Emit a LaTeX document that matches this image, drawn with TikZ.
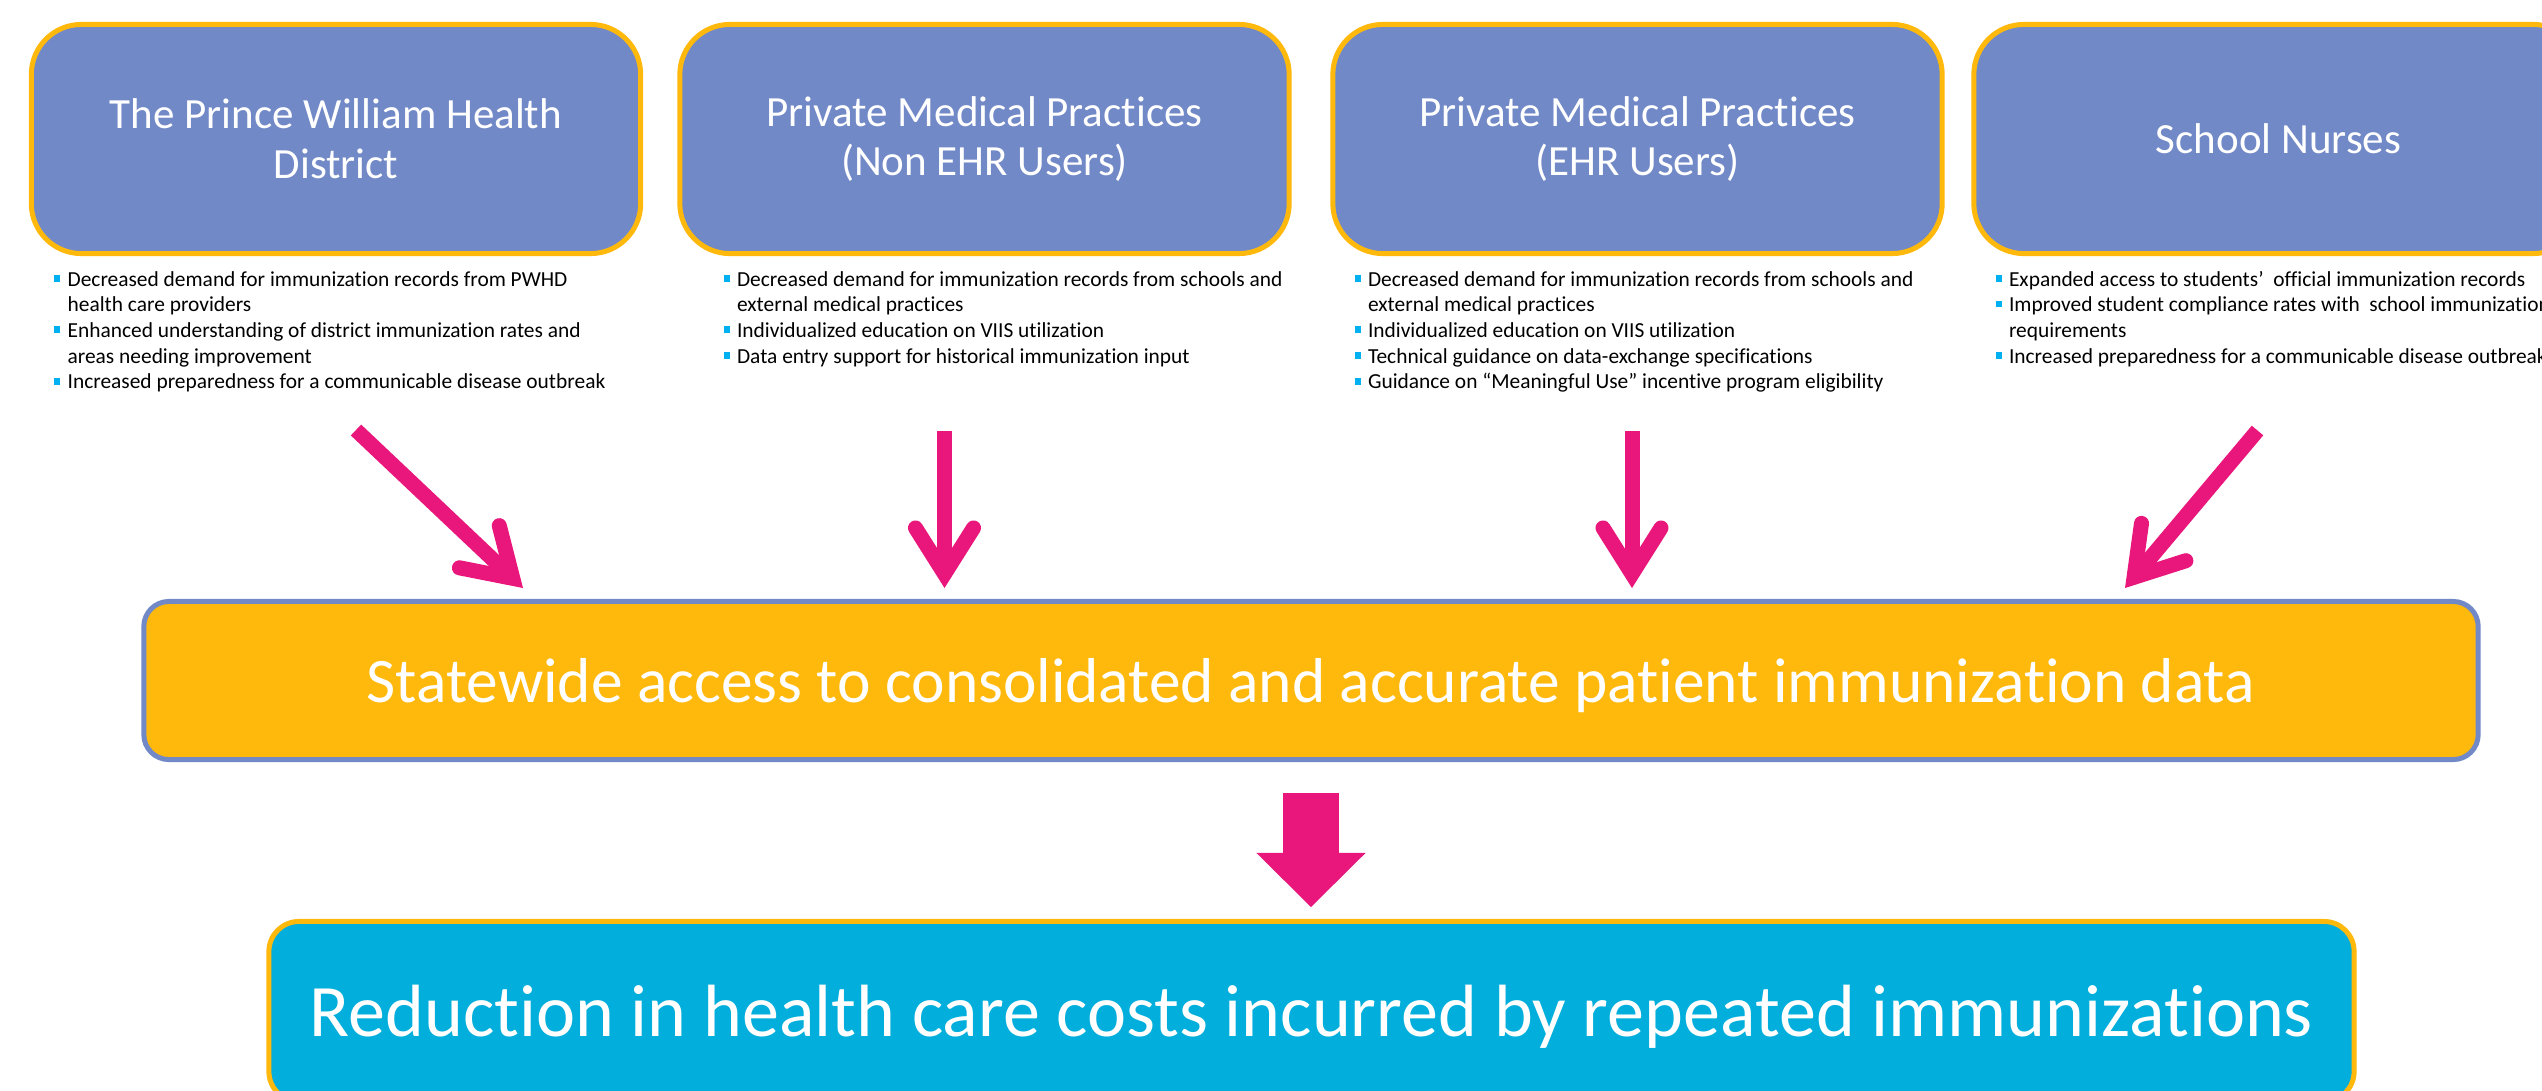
\documentclass[tikz,border=0pt]{standalone}
\usepackage{fontspec}
\setmainfont[RawFeature={-liga}]{Carlito}
\usetikzlibrary{arrows.meta}
\definecolor{boxblue}{RGB}{114,137,199}
\definecolor{gold}{RGB}{255,184,12}
\definecolor{pinkc}{RGB}{233,23,123}
\definecolor{cyanc}{RGB}{2,174,219}
\definecolor{bulc}{RGB}{0,176,240}
\newcommand{\bulsq}{\textcolor{bulc}{\rule[1.22pt]{1.65pt}{1.9pt}}}
\tikzset{
  topbox/.style={draw=gold, fill=boxblue, line width=1.42pt, rounded corners=0.5cm,
    minimum width=6.09cm, minimum height=2.29cm, text=white, align=center,
    font=\fontsize{12.24}{14.2}\selectfont, inner sep=0pt},
  bullets/.style={anchor=base west, inner sep=0pt, font=\fontsize{6.09}{7.31}\selectfont, text=black},
  thinarrow/.style={draw=pinkc, line width=0.15cm,
    -{Straight Barb[length=0.46cm, width=0.58cm, line cap=round, line join=miter]}},
  blockarrow/.style={draw=pinkc, line width=0.56cm,
    -{Triangle[length=0.54cm, width=1.09cm, line width=0pt]}},
  barbox/.style={draw=boxblue, fill=gold, line width=1.42pt, rounded corners=0.25cm,
    minimum width=23.33cm, minimum height=1.58cm, text=white, inner sep=0pt,
    text height=0.5cm, text depth=0.07cm, font=\fontsize{18.04}{21.6}\selectfont},
  resultbox/.style={draw=gold, fill=cyanc, line width=1.42pt, rounded corners=0.3cm,
    minimum width=20.84cm, minimum height=1.80cm, text=white, inner sep=0pt,
    text height=0.55cm, text depth=0.06cm, font=\fontsize{21.05}{25}\selectfont},
}
\begin{document}
\begin{tikzpicture}[x=0.01cm, y=-0.01cm]
\path[use as bounding box] (0,0) rectangle (2542,1090);
\clip (0,0) rectangle (2542,1090);
\fill[white] (0,0) rectangle (2542,1090);

% top boxes
\node[topbox] (b1) at (336,139) {The Prince William Health\\District};
\node[topbox] (b2) at (984.5,139) {Private Medical Practices\\(Non EHR Users)};
\node[topbox] (b3) at (1637.5,139) {Private Medical Practices\\(EHR Users)};
\node[topbox] (b4) at (2278.5,139) {School Nurses};

% bullet lists
\node[bullets] (l1) at (53.6,286) {\begin{tabular}[t]{@{}l@{\hspace{0.075cm}}l@{}}
\bulsq & Decreased demand for immunization records from PWHD\\
 & health care providers\\
\bulsq & Enhanced understanding of district immunization rates and\\
 & areas needing improvement\\
\bulsq & Increased preparedness for a communicable disease outbreak
\end{tabular}};
\node[bullets] (l2) at (723,286) {\begin{tabular}[t]{@{}l@{\hspace{0.075cm}}l@{}}
\bulsq & Decreased demand for immunization records from schools and\\
 & external medical practices\\
\bulsq & Individualized education on VIIS utilization\\
\bulsq & Data entry support for historical immunization input
\end{tabular}};
\node[bullets] (l3) at (1354,286) {\begin{tabular}[t]{@{}l@{\hspace{0.075cm}}l@{}}
\bulsq & Decreased demand for immunization records from schools and\\
 & external medical practices\\
\bulsq & Individualized education on VIIS utilization\\
\bulsq & Technical guidance on data-exchange specifications\\
\bulsq & Guidance on “Meaningful Use” incentive program eligibility
\end{tabular}};
\node[bullets] (l4) at (1995,286) {\begin{tabular}[t]{@{}l@{\hspace{0.075cm}}l@{}}
\bulsq & Expanded access to students’\ \ official immunization records\\
\bulsq & Improved student compliance rates with\ \ school immunization\\
 & requirements\\
\bulsq & Increased preparedness for a communicable disease outbreak
\end{tabular}};

% middle bar and result box
\node[barbox] (bar) at (1311,680.5) {Statewide access to consolidated and accurate patient immunization data};
\node[resultbox] (res) at (1311.5,1011.5) {Reduction in health care costs incurred by repeated immunizations};

% arrow end points
\coordinate (s1) at (356,430);    \coordinate (e1) at (523,588);
\coordinate (s2) at (944.5,431);  \coordinate (e2) at (944.5,588);
\coordinate (s3) at (1632,431);   \coordinate (e3) at (1632,588);
\coordinate (s4) at (2257.5,430.5); \coordinate (e4) at (2125,588);
\coordinate (s5) at (1311,793);   \coordinate (e5) at (1311,907);

\draw[thinarrow] (s1) -- (e1);
\draw[thinarrow] (s2) -- (e2);
\draw[thinarrow] (s3) -- (e3);
\draw[thinarrow] (s4) -- (e4);
\draw[blockarrow] (s5) -- (e5);
\end{tikzpicture}
\end{document}
